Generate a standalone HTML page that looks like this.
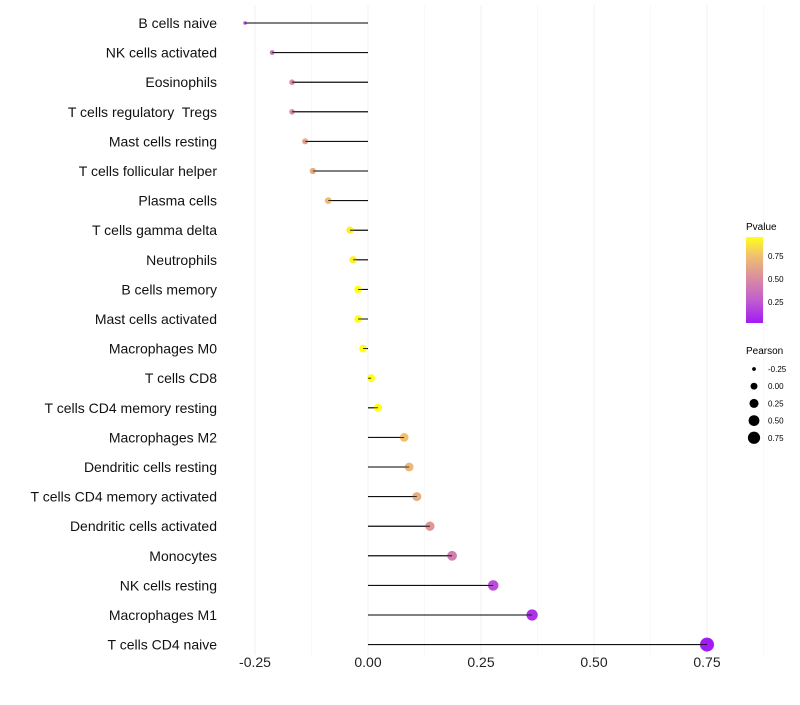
<!DOCTYPE html>
<html><head><meta charset="utf-8"><style>
body{margin:0;background:#fff;font-family:"Liberation Sans",sans-serif}
text{white-space:pre}
</style></head><body>
<svg id="chart" width="800" height="700" xmlns="http://www.w3.org/2000/svg" font-family="Liberation Sans, sans-serif">
<g id="grid"></g><g id="marks"></g><g id="labels"></g>
<g id="legend">
<defs><linearGradient id="pg" x1="0" y1="1" x2="0" y2="0">
<stop offset="0" stop-color="#A21AF5"/><stop offset="0.27" stop-color="#C15FCE"/><stop offset="0.53" stop-color="#DA8E9E"/><stop offset="0.8" stop-color="#F2C46C"/><stop offset="1" stop-color="#FFFF1A"/></linearGradient></defs>
<text x="746" y="230" font-size="10">Pvalue</text>
<rect x="746" y="237" width="17" height="86" fill="url(#pg)"/>
<text x="768" y="259" font-size="8">0.75</text>
<text x="768" y="282" font-size="8">0.50</text>
<text x="768" y="305" font-size="8">0.25</text>
<text x="746" y="354" font-size="10">Pearson</text>
<g id="sizeleg"></g>
</g>
</svg>
<script>
const cells=["B cells naive","NK cells activated","Eosinophils","T cells regulatory  Tregs","Mast cells resting","T cells follicular helper","Plasma cells","T cells gamma delta","Neutrophils","B cells memory","Mast cells activated","Macrophages M0","T cells CD8","T cells CD4 memory resting","Macrophages M2","Dendritic cells resting","T cells CD4 memory activated","Dendritic cells activated","Monocytes","NK cells resting","Macrophages M1","T cells CD4 naive"];
const pearson=[-0.272,-0.212,-0.168,-0.168,-0.139,-0.122,-0.088,-0.04,-0.033,-0.022,-0.022,-0.011,0.007,0.022,0.08,0.091,0.108,0.137,0.186,0.277,0.363,0.75];
const pvalue=[0.2,0.35,0.5,0.5,0.6,0.65,0.72,0.9,0.9,0.95,0.95,0.98,1.0,0.98,0.74,0.7,0.66,0.55,0.42,0.2,0.1,0.01];
const xTicks=[-0.25,0,0.25,0.5,0.75];
const xTickLabels=["-0.25","0.00","0.25","0.50","0.75"];
const sizeLegendVals=[-0.25,0,0.25,0.5,0.75];
const NS="http://www.w3.org/2000/svg";
const xs=v=>368+v*452;
const ys=i=>23+i*29.6;
const rs=v=>Math.sqrt(Math.max(2.5,15.4+45*v));
const rl=v=>Math.sqrt(Math.max(3,12+34*v));
const stops=[[0,[162,26,245]],[0.27,[193,95,206]],[0.53,[218,142,158]],[0.8,[242,196,108]],[1,[255,255,26]]];
function col(p){p=Math.max(0,Math.min(1,(p-0.01)/0.94));for(let k=1;k<stops.length;k++){if(p<=stops[k][0]){const a=stops[k-1],b=stops[k],t=(p-a[0])/(b[0]-a[0]);return "rgb("+a[1].map((c,j)=>Math.round(c+(b[1][j]-c)*t)).join(",")+")";}}return "rgb(255,255,26)";}
function mk(tag,attrs,parent){const e=document.createElementNS(NS,tag);for(const k in attrs)e.setAttribute(k,attrs[k]);parent.appendChild(e);return e;}
const grid=document.getElementById('grid'),marks=document.getElementById('marks'),labels=document.getElementById('labels');
for(let v=-0.375;v<=0.876;v+=0.125){const x=xs(v);if(x<225||x>790)continue;const l=mk('line',{x1:x,x2:x,y1:5,y2:655,stroke:"#f0f0f0","stroke-width":xTicks.some(t=>Math.abs(t-v)<1e-6)?1:0.5},grid);

}
xTicks.forEach((t,i)=>{const e=mk('text',{x:xs(t),y:667,"font-size":14,"text-anchor":"middle",fill:"#222"},labels);e.textContent=xTickLabels[i];

});
cells.forEach((c,i)=>{const y=ys(i);
const t=mk('text',{x:217,y:y+5,"font-size":14,"text-anchor":"end",fill:"#111"},labels);t.textContent=c;


const l=mk('line',{x1:xs(0),x2:xs(pearson[i]),y1:y,y2:y,stroke:"#000","stroke-width":1},marks);


const p=mk('circle',{cx:xs(pearson[i]),cy:y,r:rs(pearson[i]),fill:col(pvalue[i])},marks);


const l2=mk('line',{x1:xs(0),x2:xs(pearson[i]),y1:y,y2:y,stroke:"#000","stroke-width":0.8},marks);

});
const sl=document.getElementById('sizeleg');
sizeLegendVals.forEach((v,i)=>{const y=369+i*17.2;
const c=mk('circle',{cx:754,cy:y,r:rl(v),fill:"#000"},sl);


const t=mk('text',{x:768,y:y+3,"font-size":8},sl);t.textContent=xTickLabels[i];

});
</script>
</body></html>
